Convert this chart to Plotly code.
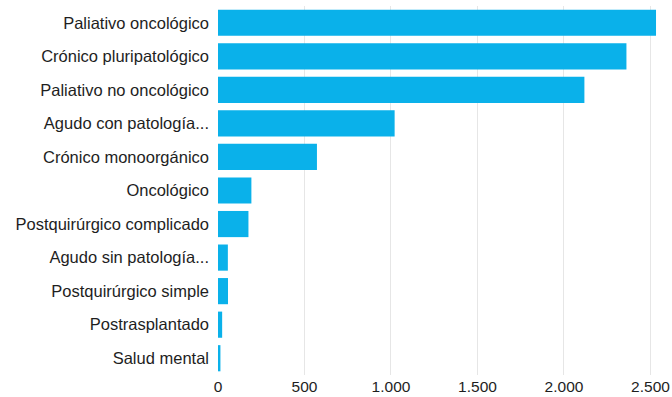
import plotly.graph_objects as go

categories = [
    "Paliativo oncológico",
    "Crónico pluripatológico",
    "Paliativo no oncológico",
    "Agudo con patología...",
    "Crónico monoorgánico",
    "Oncológico",
    "Postquirúrgico complicado",
    "Agudo sin patología...",
    "Postquirúrgico simple",
    "Postrasplantado",
    "Salud mental",
]
values = [2532, 2361, 2118, 1021, 572, 193, 176, 57, 58, 24, 14]
x_ticks = [0, 500, 1000, 1500, 2000, 2500]

fig = go.Figure(
    go.Bar(
        x=values,
        y=categories,
        orientation="h",
        marker=dict(color="#0AB1EA", line=dict(width=0)),
        hoverinfo="x+y",
    )
)

fig.update_layout(
    width=672,
    height=397,
    margin=dict(l=218, r=12, t=6, b=22),
    paper_bgcolor="white",
    plot_bgcolor="white",
    bargap=0.22,
    separators=",.",
    showlegend=False,
    font=dict(family="Liberation Sans, Arial, sans-serif", size=16.5, color="#1E1E1E"),
)
fig.update_xaxes(
    range=[0, 2555],
    tickvals=x_ticks,
    tickformat=",d",
    showgrid=True,
    gridcolor="#E6E6E6",
    gridwidth=1,
    zeroline=False,
    showline=False,
    ticks="",
    automargin=False,
    ticklabelstandoff=0,
    tickfont=dict(size=15.5, color="#1E1E1E"),
)
fig.update_yaxes(
    autorange="reversed",
    showgrid=False,
    showline=False,
    ticks="",
    automargin=False,
    ticklabelstandoff=8,
    tickfont=dict(size=16.5, color="#1E1E1E"),
)

fig.write_html("out.html")
